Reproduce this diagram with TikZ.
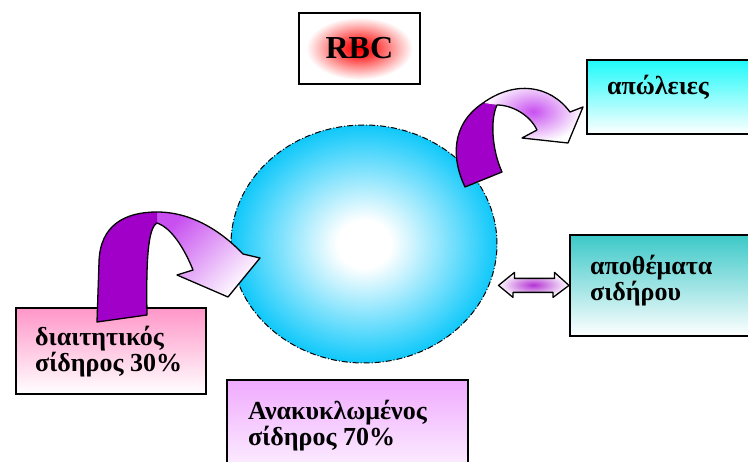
\documentclass[tikz,border=0pt]{standalone}
\usepackage{fontspec}
\setmainfont{Liberation Serif}[BoldFont={Liberation Serif Bold}]
\usetikzlibrary{shapes.geometric}

\definecolor{cellblue}{RGB}{15,200,250}
\definecolor{ribbondark}{RGB}{160,0,200}
\definecolor{ribbonlight}{RGB}{200,80,240}
\definecolor{losstop}{RGB}{30,250,250}
\definecolor{storetop}{RGB}{60,200,200}
\definecolor{diettop}{RGB}{255,150,200}
\definecolor{recycletop}{RGB}{240,170,255}

\pgfdeclareradialshading{cellglow}{\pgfpoint{0bp}{0bp}}{color(0bp)=(white); color(5bp)=(white); color(25bp)=(cellblue); color(50bp)=(cellblue)}
\pgfdeclareradialshading{rbcglow}{\pgfpoint{0bp}{0bp}}{color(0bp)=(red); color(5bp)=(red!85); color(22bp)=(white); color(50bp)=(white)}

\tikzset{
  box/.style={draw, line width=1.8pt, inner sep=0pt, anchor=north west},
  boxtext/.style={anchor=west, align=left, inner sep=0pt,
    font=\fontsize{26}{26}\selectfont\bfseries},
  ribbon/.style={draw, line width=1.3pt, line join=round},
}

\begin{document}
\begin{tikzpicture}[x=1pt, y=-1pt]
    \useasboundingbox (0,0) rectangle (748,462);
    \clip (0,0) rectangle (748,462);

    % red cell
    \node[draw, ellipse, shading=cellglow, line width=1pt,
      dash pattern=on 6pt off 2pt on 1pt off 2pt,
      minimum width=266pt, minimum height=238pt, inner sep=0pt] (cell) at (364,244) {};

    % title
    \node[box, shading=rbcglow, minimum width=121pt, minimum height=71pt] (rbcBox) at (298,12) {};
    \node[font=\fontsize{32}{34}\selectfont\bfseries, inner sep=0pt] (rbc) at (rbcBox.center) {RBC};

    % boxes round the cell
    \node[box, top color=losstop, bottom color=white, minimum width=200pt, minimum height=74pt] (lossBox) at (586,59) {};
    \node[boxtext] (loss) at (607,87) {απώλειες};

    \node[box, top color=storetop, bottom color=white, minimum width=200pt, minimum height=101pt] (storeBox) at (569,234) {};
    \node[boxtext] (store) at (590,281) {αποθέματα\\σιδήρου};

    \node[box, top color=diettop, bottom color=white, minimum width=190pt, minimum height=86pt] (dietBox) at (15,307) {};
    \node[boxtext] (diet) at (35,352) {διαιτητικός\\σίδηρος 30\%};

    \node[box, top color=recycletop, bottom color=white, minimum width=241pt, minimum height=110pt] (recycleBox) at (226,379) {};
    \node[boxtext] (recycle) at (248,426) {Ανακυκλωμένος\\σίδηρος 70\%};

    % diet arrow into the cell
    \fill[top color=ribbonlight, bottom color=white, shading angle=45]
      (157,212) .. controls (195,212) and (225,235) .. (243,254) -- (260,258) -- (228,297)
      -- (177,275) -- (193,270) .. controls (185,250) and (172,228) .. (157,223) -- cycle;
    \fill[ribbondark] (97,322) -- (99,262) .. controls (100,225) and (125,212) .. (157,212)
      -- (157,223) .. controls (148,228) and (146,260) .. (147,315) -- cycle;
    \draw[ribbon] (97,322) -- (99,262) .. controls (100,225) and (125,212) .. (157,212)
      .. controls (195,212) and (225,235) .. (243,254) -- (260,258) -- (228,297)
      -- (177,275) -- (193,270) .. controls (185,250) and (172,228) .. (157,223)
      .. controls (148,228) and (146,260) .. (147,315) -- cycle;

    % loss arrow out of the cell
    \fill[inner color=ribbonlight, outer color=white]
      (483,103) .. controls (515,80) and (550,85) .. (570,112) -- (583,107) -- (568,143)
      -- (522,138) -- (537,130) .. controls (530,115) and (512,105) .. (497,105) -- cycle;
    \fill[ribbondark] (465,187) .. controls (452,160) and (450,125) .. (483,103)
      -- (497,105) .. controls (490,120) and (492,150) .. (502,172) -- cycle;
    \draw[ribbon] (465,187) .. controls (452,160) and (450,125) .. (483,103)
      .. controls (515,80) and (550,85) .. (570,112) -- (583,107) -- (568,143)
      -- (522,138) -- (537,130) .. controls (530,115) and (512,105) .. (497,105)
      .. controls (490,120) and (492,150) .. (502,172) -- cycle;

    % store arrow, both ways
    \draw[ribbon, inner color=ribbondark!80, outer color=white]
      (cell.east |- storeBox.west) ++(1,0) coordinate (storeL)
      -- ++(16,-13) -- ++(0,6) -- ++(40,0) -- ++(0,-6) -- (storeBox.west |- storeL)
      -- ++(-16,12) -- ++(0,-5) -- ++(-40,0) -- ++(0,5) -- cycle;
\end{tikzpicture}
\end{document}
